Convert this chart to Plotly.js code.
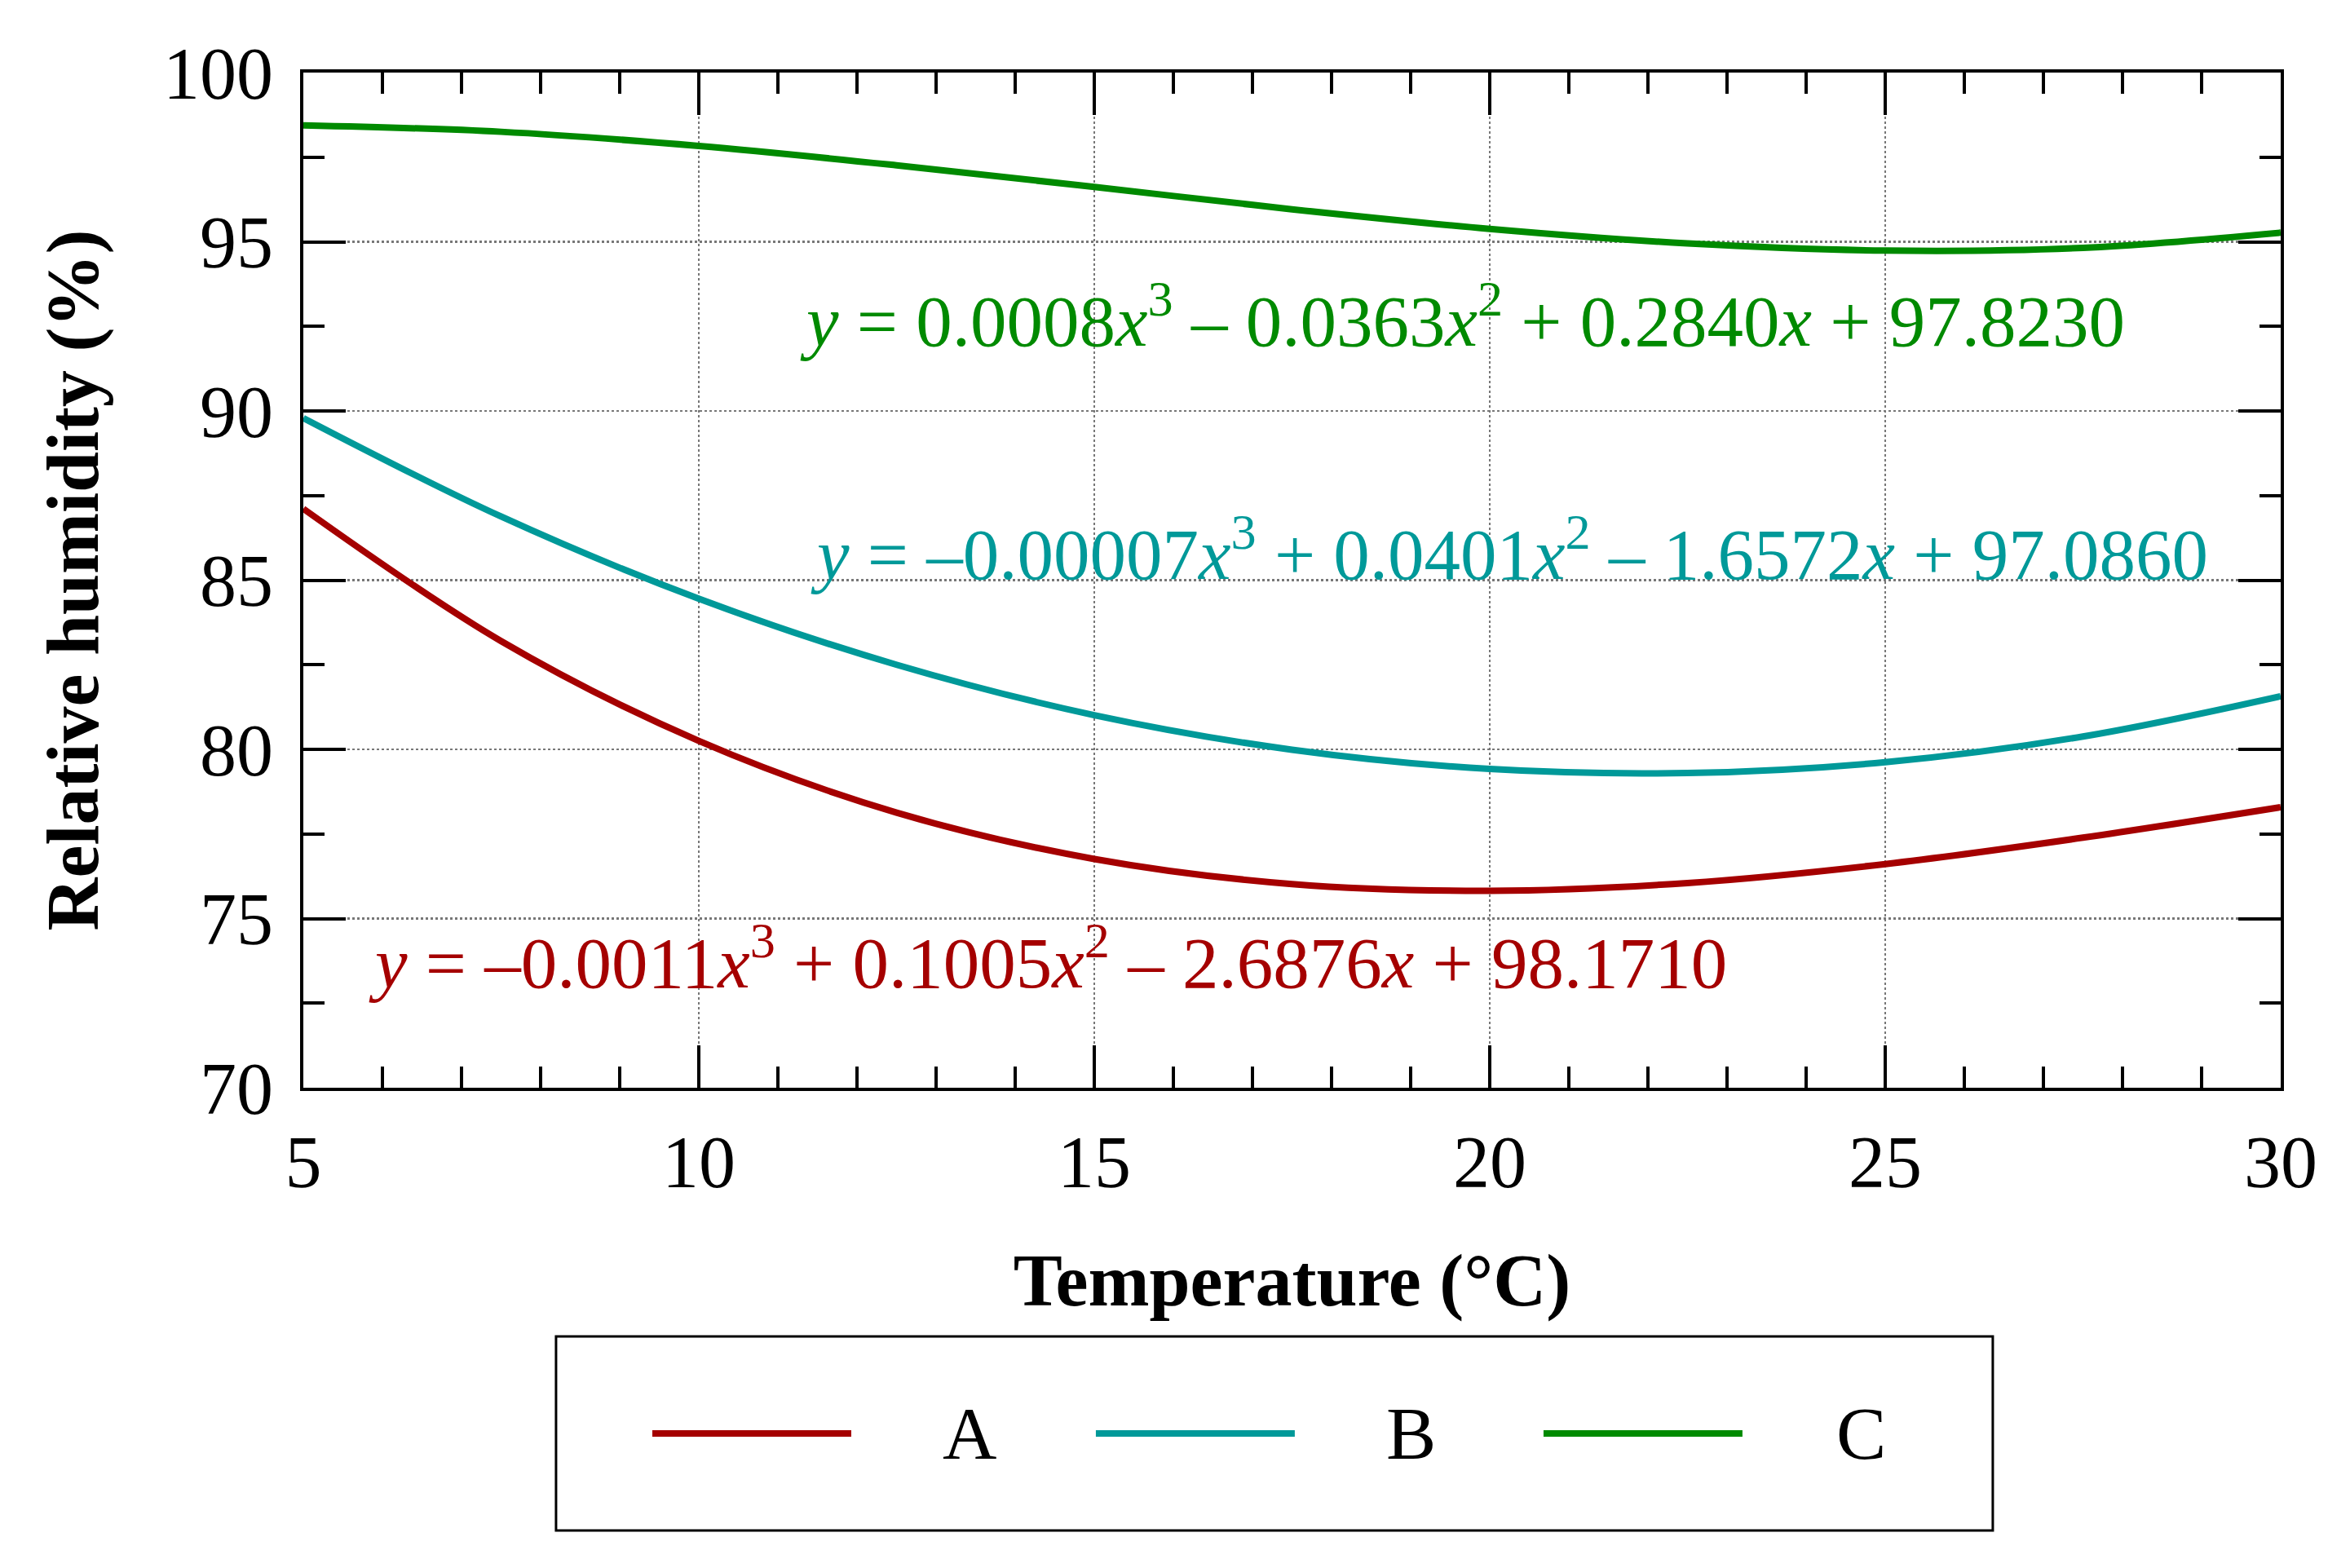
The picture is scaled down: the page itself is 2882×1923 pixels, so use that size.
<!DOCTYPE html>
<html>
<head>
<meta charset="utf-8">
<script src="https://cdn.plot.ly/plotly-3.0.1.min.js"></script>
<style>
   html, body { margin: 0; padding: 0; background: #fff; }
   #chart { width: 2882px; height: 1923px; }
</style>
</head>
<body>
<div id="chart"></div>
<script>

// Temperature (°C) and relative humidity (%)
const temperature = [5, 7.5, 10, 12.5, 15, 17.5, 20, 22.5, 25, 27.5, 30];
const humidityA = [87.11, 83.20, 80.25, 78.13, 76.76, 76.02, 75.82, 76.05, 76.61, 77.39, 78.29];
const humidityB = [89.79, 86.88, 84.45, 82.50, 81.01, 79.99, 79.42, 79.30, 79.62, 80.38, 81.57];
const humidityC = [98.44, 98.25, 97.83, 97.26, 96.62, 95.96, 95.38, 94.95, 94.74, 94.82, 95.27];

const seriesNames = ['A', 'B', 'C'];
const seriesColors = ['#a50000', '#009999', '#008a00'];

const equations = [
   '<i>y</i> = –0.0011<i>x</i><sup>3</sup> + 0.1005<i>x</i><sup>2</sup> – 2.6876<i>x</i> + 98.1710',
   '<i>y</i> = –0.00007<i>x</i><sup>3</sup> + 0.0401<i>x</i><sup>2</sup> – 1.6572<i>x</i> + 97.0860',
   '<i>y</i> = 0.0008<i>x</i><sup>3</sup> – 0.0363<i>x</i><sup>2</sup> + 0.2840<i>x</i> + 97.8230',
];

const xTitle = 'Temperature (°C)';
const yTitle = 'Relative humidity (%)';

const FONT = 'Liberation Serif, Times New Roman, serif';

function onLoad() {
   const ys = [humidityA, humidityB, humidityC];

   const traces = ys.map((y, i) => ({
      name: seriesNames[i],
      x: temperature,
      y: y,
      mode: 'lines',
      line: { color: seriesColors[i], width: 8, shape: 'spline', smoothing: 1 },
      showlegend: false,
      hoverinfo: 'skip',
   }));

   // equation labels, anchored in data units
   const eqPos = [
      { x: 5.80, y: 73.86 },
      { x: 11.39, y: 85.93 },
      { x: 11.26, y: 92.82 },
   ];
   const annotations = equations.map((t, i) => ({
      text: t,
      xref: 'x', yref: 'y',
      x: eqPos[i].x, y: eqPos[i].y,
      xanchor: 'left', yanchor: 'middle',
      showarrow: false,
      font: { family: FONT, size: 89, color: seriesColors[i] },
   }));

   // hand-made legend (long line samples like the original)
   const legBox = { x0: 0.1278, x1: 0.8544, y0: -0.4361, y1: -0.2450 };
   const legY = -0.3406;
   const lineX = [[0.1765, 0.2771], [0.4008, 0.5014], [0.6272, 0.7278]];
   const labelX = [0.3369, 0.5600, 0.7880];

   const shapes = [{
      type: 'rect', xref: 'paper', yref: 'paper',
      x0: legBox.x0, x1: legBox.x1, y0: legBox.y0, y1: legBox.y1,
      line: { color: '#000', width: 3 }, fillcolor: 'rgba(0,0,0,0)',
   }];
   seriesNames.forEach((n, i) => {
      shapes.push({
         type: 'line', xref: 'paper', yref: 'paper',
         x0: lineX[i][0], x1: lineX[i][1], y0: legY, y1: legY,
         line: { color: seriesColors[i], width: 8 },
      });
      annotations.push({
         text: n, xref: 'paper', yref: 'paper',
         x: labelX[i], y: legY, xanchor: 'center', yanchor: 'middle',
         showarrow: false,
         font: { family: FONT, size: 92, color: '#000' },
      });
   });

   const axisCommon = {
      showline: true, linecolor: '#000', linewidth: 4, mirror: 'ticks',
      ticks: 'inside', ticklen: 52, tickwidth: 4, tickcolor: '#000',
      showgrid: true, gridcolor: '#777', gridwidth: 2.5, griddash: 'dot',
      zeroline: false,
      tickfont: { family: FONT, size: 90, color: '#000' },
   };

   const layout = {
      width: 2882, height: 1923,
      margin: { l: 372, r: 85, t: 89, b: 589 },
      paper_bgcolor: '#fff', plot_bgcolor: '#fff',
      xaxis: {
         ...axisCommon,
         range: [5, 30], tick0: 5, dtick: 5,
         ticklabelstandoff: 10,
         minor: { dtick: 1, ticks: 'inside', ticklen: 26, tickwidth: 4, tickcolor: '#000', showgrid: false },
         title: { text: xTitle, standoff: 65, font: { family: FONT, size: 90, color: '#000', weight: 'bold' } },
      },
      yaxis: {
         ...axisCommon,
         range: [70, 100], tick0: 70, dtick: 5,
         ticklabelstandoff: 15,
         minor: { dtick: 2.5, ticks: 'inside', ticklen: 26, tickwidth: 4, tickcolor: '#000', showgrid: false },
         title: { text: yTitle, standoff: 51, font: { family: FONT, size: 90, color: '#000', weight: 'bold' } },
      },
      annotations: annotations,
      shapes: shapes,
      showlegend: false,
   };

   Plotly.newPlot('chart', traces, layout, { staticPlot: true });
}

onLoad();
</script>
</body>
</html>
